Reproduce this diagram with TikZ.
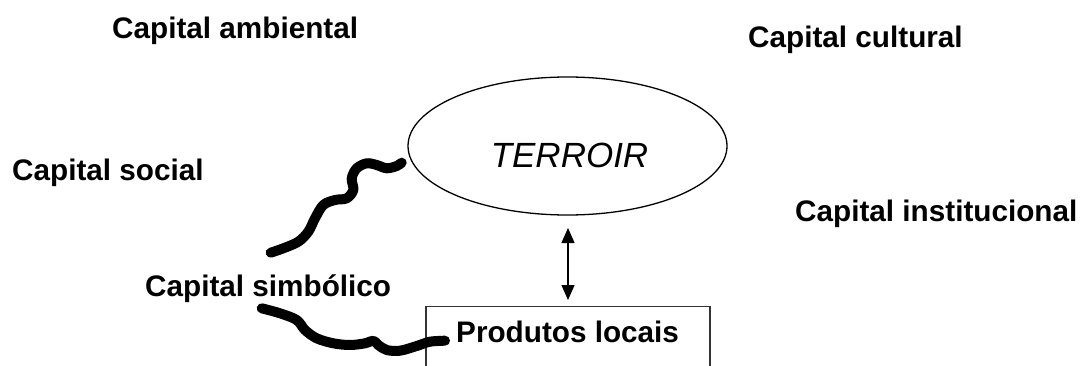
\documentclass[tikz,border=0pt]{standalone}
\usepackage{fontspec}
\setmainfont{Liberation Sans}
\usetikzlibrary{arrows.meta,shapes.geometric}
\begin{document}
\begin{tikzpicture}[x=1pt,y=1pt,
  lbl/.style={anchor=base west,inner sep=0pt,font=\fontsize{29.7}{34}\selectfont\bfseries},
  wave/.style={line width=10pt,line cap=round,line join=round},
  frame/.style={draw=black!80,line width=1.4pt}]
\useasboundingbox (0,0) rectangle (1081,365);
\clip (0,0) rectangle (1081,365);
\fill[white] (0,0) rectangle (1081,365);

% forms of capital
\node[lbl] (amb) at (112,326) {Capital ambiental};
\node[lbl] (cul) at (748,317) {Capital cultural};
\node[lbl] (soc) at (12,185) {Capital social};
\node[lbl] (ins) at (795,144) {Capital institucional};
\node[lbl] (sim) at (145,69) {Capital simbólico};

% terroir
\node[draw,ellipse,line width=1.3pt,minimum width=319pt,minimum height=138pt,inner sep=0pt]
  (ter) at (567.5,219) {};
\node[font=\fontsize{35}{42}\selectfont\itshape,inner sep=0pt,anchor=base]
  (tert) at (569.5,198) {TERROIR};

% local products box (open at the bottom edge)
\node[frame,minimum width=284pt,minimum height=80pt,inner sep=0pt,anchor=north]
  (box) at (568,59) {};
\node[lbl] (prod) at (456,23) {Produtos locais};

% two-way link
\coordinate (atop) at (568,137);
\coordinate (abot) at (568,65);
\draw[line width=1.5pt,{Triangle[width=13pt,length=15pt]}-{Triangle[width=13pt,length=15pt]}]
  (atop) -- (abot);

% wavy strokes
\draw[wave] plot[smooth,tension=0.55] coordinates
  {(270.7,112.3) (283.3,116.7) (298.3,123.3) (308.3,133.3) (315,146.7) (323.3,160)
   (335,165) (346.7,166.7) (353.3,175) (351.7,186.7) (356.7,196.7) (366.7,201.7)
   (376.7,200) (386.7,196.7) (396.7,199) (401.7,202.3)};
\draw[wave] plot[smooth,tension=0.55] coordinates
  {(261.7,56.7) (280,51.7) (296.7,45) (305,35) (316.7,26.7) (333.3,21.7) (350,20)
   (365,21.7) (373.3,24.3) (378.3,20) (386.7,15) (400,14.3) (416.7,19) (430,23.3) (445,24.3)};
\end{tikzpicture}
\end{document}
